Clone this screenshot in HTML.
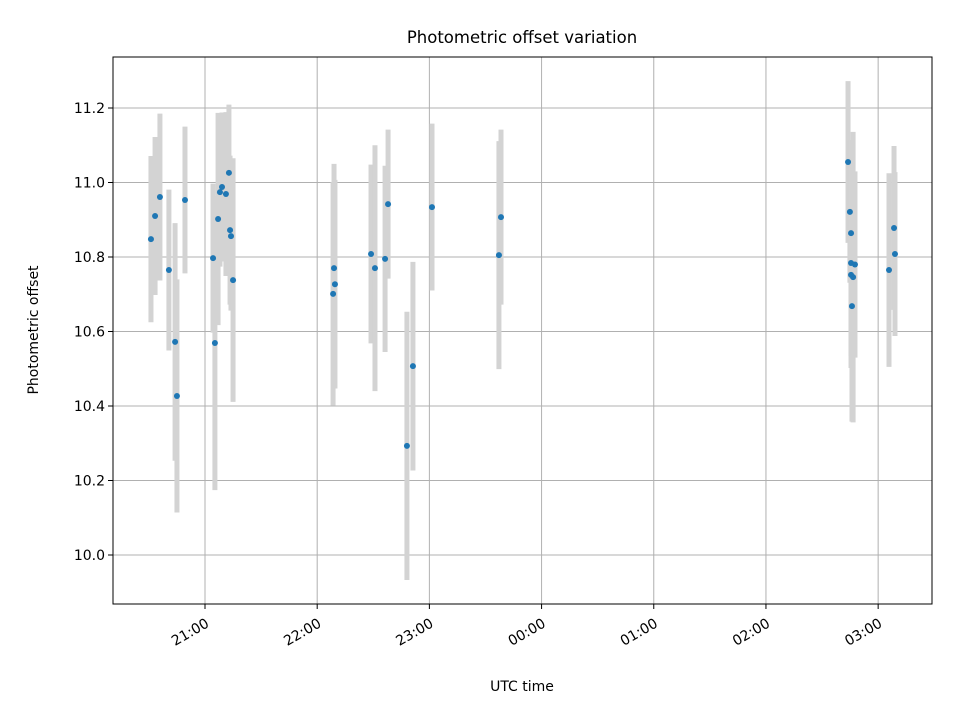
<!DOCTYPE html>
<html><head><meta charset="utf-8"><style>
body{margin:0;background:#fff;}
svg{display:block;font-family:"DejaVu Sans","Liberation Sans",sans-serif;}
</style></head><body>
<svg id="chart" width="960" height="720" viewBox="0 0 960 720">
<rect width="960" height="720" fill="#fff"/>
<g id="grid"></g><g id="bars"></g><g id="pts"></g><g id="axes"></g>
<text x="522" y="43" text-anchor="middle" font-size="16.5">Photometric offset variation</text>
<text x="522" y="691" text-anchor="middle" font-size="14">UTC time</text>
<text transform="translate(38,330) rotate(-90)" text-anchor="middle" font-size="14">Photometric offset</text>
</svg>
<script>
// minutes after 20:00 UTC
const times=[31.1,33.3,35.9,40.7,44.0,45.0,49.3,64.3,65.3,67.0,68.0,69.1,71.2,72.8,73.4,73.9,75.0,128.5,129.0,129.5,148.8,150.9,156.3,157.9,168.0,171.2,181.4,217.2,218.3,403.9,404.9,405.5,405.5,407.6,405.5,406.6,406.0,425.8,428.5,429.0];
const offsets=[10.848,10.910,10.961,10.765,10.572,10.427,10.953,10.797,10.569,10.902,10.974,10.988,10.969,11.026,10.872,10.856,10.738,10.701,10.770,10.727,10.808,10.770,10.795,10.942,10.293,10.507,10.934,10.805,10.907,11.055,10.921,10.864,10.784,10.780,10.752,10.746,10.668,10.765,10.878,10.808];
const errors=[0.223,0.212,0.224,0.216,0.319,0.313,0.197,0.2,0.395,0.285,0.2,0.2,0.22,0.183,0.2,0.2,0.327,0.3,0.28,0.28,0.24,0.33,0.25,0.2,0.36,0.28,0.224,0.306,0.235,0.217,0.19,0.25,0.25,0.25,0.25,0.39,0.31,0.26,0.22,0.22];
const xTicks=[60,120,180,240,300,360,420];
const xTickLabels=["21:00","22:00","23:00","00:00","01:00","02:00","03:00"];
const yTicks=[10.0,10.2,10.4,10.6,10.8,11.0,11.2];
const yTickLabels=["10.0","10.2","10.4","10.6","10.8","11.0","11.2"];

const L=113,R=932,T=57,B=604;
const xMin=10.8,xMax=448.8;
const X=m=>L+(m-xMin)/(xMax-xMin)*(R-L);
const Y=v=>555-(v-10)*372.5;
const NS="http://www.w3.org/2000/svg";
function mk(tag,attrs,parent){const e=document.createElementNS(NS,tag);for(const k in attrs)e.setAttribute(k,attrs[k]);document.getElementById(parent).appendChild(e);return e;}

xTicks.forEach((t,i)=>{
  const x=X(t);
  const g=mk('line',{x1:x,x2:x,y1:T,y2:B,stroke:'#b0b0b0','stroke-width':1},'grid');
  
  
  const tk=mk('line',{x1:x,x2:x,y1:B,y2:B+5,stroke:'#000','stroke-width':1},'axes');
  
  
  const ax=x+5, ay=B+22;
  const tx=mk('text',{x:ax,y:ay,'font-size':14,'text-anchor':'end',transform:`rotate(-30 ${ax} ${ay})`},'axes');
  tx.textContent=xTickLabels[i];
  
  
});
yTicks.forEach((v,i)=>{
  const y=Y(v);
  const g=mk('line',{x1:L,x2:R,y1:y,y2:y,stroke:'#b0b0b0','stroke-width':1},'grid');
  
  
  const tk=mk('line',{x1:L-5,x2:L,y1:y,y2:y,stroke:'#000','stroke-width':1},'axes');
  
  
  const tx=mk('text',{x:L-8,y:y+5,'font-size':14,'text-anchor':'end'},'axes');
  tx.textContent=yTickLabels[i];
  
  
});
times.forEach((t,i)=>{
  const x=X(t);
  const b=mk('line',{x1:x,x2:x,y1:Y(offsets[i]+errors[i]),y2:Y(offsets[i]-errors[i]),stroke:'#d3d3d3','stroke-width':5},'bars');
  
  
  const p=mk('circle',{cx:x,cy:Y(offsets[i]),r:3,fill:'#1f77b4'},'pts');
  
  
});
const fr=mk('rect',{x:L,y:T,width:R-L,height:B-T,fill:'none',stroke:'#000','stroke-width':1},'axes');


</script>
</body></html>
